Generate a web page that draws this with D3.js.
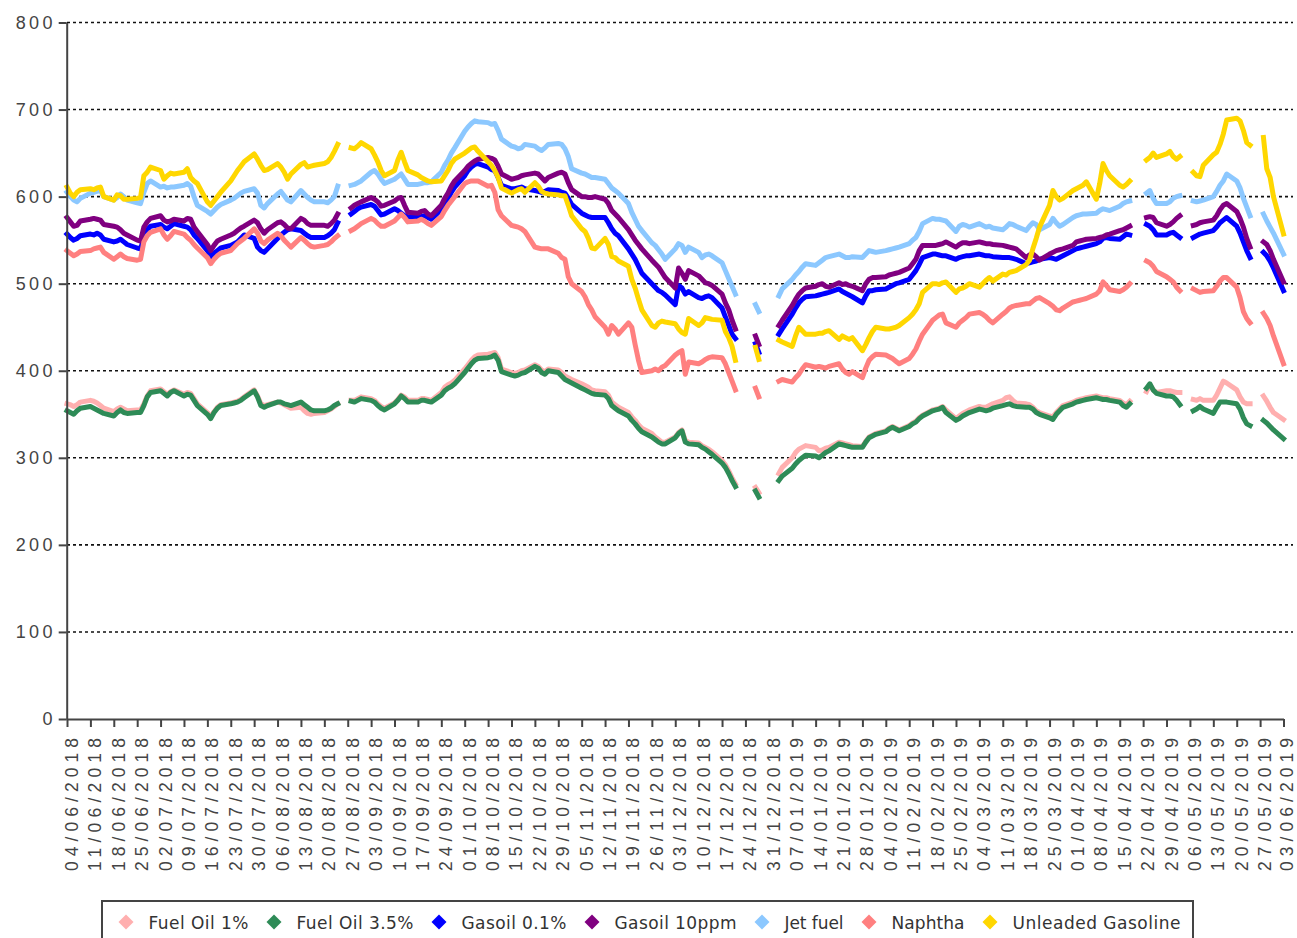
<!DOCTYPE html>
<html>
<head>
<meta charset="utf-8">
<script src="https://cdn.jsdelivr.net/npm/d3@7/dist/d3.min.js"></script>
<style>
body { margin: 0; background: #fff; }
svg { display: block; font-family: "DejaVu Sans", sans-serif; }
</style>
</head>
<body>
<script>
// weekly tick labels (Mondays); each week holds 5 business days, last week only its Monday
var weekLabels = ["04/06/2018","11/06/2018","18/06/2018","25/06/2018","02/07/2018","09/07/2018",
  "16/07/2018","23/07/2018","30/07/2018","06/08/2018","13/08/2018","20/08/2018","27/08/2018",
  "03/09/2018","10/09/2018","17/09/2018","24/09/2018","01/10/2018","08/10/2018","15/10/2018",
  "22/10/2018","29/10/2018","05/11/2018","12/11/2018","19/11/2018","26/11/2018","03/12/2018",
  "10/12/2018","17/12/2018","24/12/2018","31/12/2018","07/01/2019","14/01/2019","21/01/2019",
  "28/01/2019","04/02/2019","11/02/2019","18/02/2019","25/02/2019","04/03/2019","11/03/2019",
  "18/03/2019","25/03/2019","01/04/2019","08/04/2019","15/04/2019","22/04/2019","29/04/2019",
  "06/05/2019","13/05/2019","20/05/2019","27/05/2019","03/06/2019"]

var yTicks = [0, 100, 200, 300, 400, 500, 600, 700, 800]

var seriesNames = ["Fuel Oil 1%", "Fuel Oil 3.5%", "Gasoil 0.1%", "Gasoil 10ppm", "Jet fuel", "Naphtha", "Unleaded Gasoline"]

var fuelOil1 = [
362,361,359,361,364, 366,365,363,360,357, 353,356,358,356,354, 355,355,362,371,377,
379,376,373,376,378, 373,375,374,368,362, 352,347,353,358,361, 363,364,365,367,370,
378,371,362,360,361, 364,363,361,359,357, 358,354,351,350,351, 352,354,356,359,362,
null,366,366,368,370, 368,366,362,359,357, 363,367,372,370,366, 366,368,368,367,366,
375,381,384,386,389, 402,407,412,416,418, 419,420,421,415,402, 398,397,398,400,401,
407,405,401,399,402, 401,398,394,392,390, 385,383,381,378,377, 376,372,364,361,358,
352,347,343,338,334, 328,324,321,318,318, 324,329,332,320,318, 317,314,312,310,307,
297,292,285,277,270, null,null,null,266,260, null,null,null,282,289, 300,306,310,312,314,
312,308,309,311,312, 318,317,316,315,314, 313,319,324,326,328, 331,334,336,334,332,
337,340,342,346,349, 355,356,357,359,355, 345,348,351,353,355, 359,358,358,360,362,
366,369,370,366,363, 362,361,358,354,352, 348,347,352,356,360, 364,366,367,368,369,
371,370,369,369,368, 366,363,361,365,null, null,376,384,378,375, 377,377,376,375,375,
null,367,366,368,366, 366,372,380,388,386, 378,370,364,362,362, null,371,365,358,352,
344]

var fuelOil35 = [
354,352,350,354,357, 359,357,355,353,351, 348,352,355,352,351, 352,352,360,370,375,
377,374,371,375,377, 371,373,372,366,360, 350,345,352,357,360, 362,363,364,366,369,
377,370,360,358,360, 364,364,362,361,360, 364,361,358,355,354, 354,355,357,360,362,
null,365,364,366,368, 366,364,360,357,355, 362,366,371,368,364, 364,366,366,365,364,
372,377,380,382,385, 398,403,408,412,414, 415,416,418,412,399, 395,394,395,397,398,
405,403,398,396,400, 398,394,390,388,386, 380,378,376,374,373, 372,368,360,357,354,
348,343,339,334,330, 324,321,318,316,316, 323,328,331,318,316, 315,312,310,307,304,
294,289,282,274,267, null,null,null,262,255, null,null,null,274,279, 288,293,297,300,303,
302,300,303,306,308, 316,315,314,313,312, 312,318,323,325,327, 330,333,335,333,331,
336,339,341,345,348, 354,355,356,358,352, 343,345,348,350,352, 356,355,354,355,357,
360,361,362,360,359, 358,358,356,352,350, 346,344,350,354,358, 362,364,365,366,367,
369,368,367,367,366, 364,360,358,362,null, null,380,385,378,374, 371,371,370,366,361,
null,354,356,359,356, 351,358,364,364,364, 362,356,346,339,337, null,343,340,336,332,
322]

var gasoil01 = [
557,553,550,552,555, 557,556,558,556,551, 548,549,551,548,545, 541,540,552,562,566,
568,565,563,566,569, 566,565,562,556,552, 538,531,535,538,541, 544,546,548,552,556,
552,542,538,536,540, 552,556,559,562,563, 561,558,555,553,553, 553,555,558,562,570,
null,580,583,586,588, 591,589,584,579,580, 586,584,581,578,577, 576,577,578,576,574,
585,592,598,605,611, 624,630,634,637,638, 634,631,630,622,613, 609,609,610,611,609,
607,606,605,606,608, 607,605,604,598,591, 581,579,577,576,576, 576,570,563,558,555,
540,534,528,520,512, 500,496,492,490,487, 476,498,495,488,491, 484,483,485,486,484,
472,462,452,442,437, null,null,null,431,421, null,null,null,442,448, 465,472,478,482,485,
486,487,488,489,490, 494,491,489,487,485, 478,486,492,492,493, 494,496,498,500,501,
505,510,515,522,530, 534,534,533,532,532, 528,530,531,532,532, 534,533,532,532,531,
530,530,530,529,528, 523,524,525,526,528, 530,529,528,530,532, 538,540,541,542,543,
546,548,552,553,552, 551,554,557,556,null, null,568,566,562,556, 556,558,559,556,553,
null,553,555,557,558, 561,565,570,573,576, 566,558,548,538,530, null,536,532,526,518,
492]

var gasoil10 = [
576,571,566,567,572, 574,575,574,573,568, 566,565,562,558,556, 550,549,565,571,575,
578,573,571,572,574, 572,575,574,565,560, 545,538,544,549,551, 556,558,561,564,566,
573,570,563,558,562, 570,571,568,564,563, 575,573,569,567,567, 567,566,569,573,580,
null,587,590,592,594, 599,597,594,589,590, 595,598,599,590,582, 581,583,584,580,578,
590,598,604,612,618, 630,635,638,641,643, 645,644,642,635,626, 620,621,622,624,625,
627,626,622,618,622, 627,628,626,616,608, 600,600,599,599,600, 597,592,584,580,576,
562,556,550,545,540, 527,523,519,513,507, 495,518,512,505,515, 509,505,501,500,498,
488,478,470,458,448, null,null,null,440,430, null,null,null,452,458, 475,482,488,492,495,
497,499,500,497,496, 501,499,500,498,497, 492,500,505,507,507, 508,510,511,512,513,
518,523,528,538,544, 544,544,545,546,548, 542,545,547,547,546, 548,547,546,546,545,
544,543,542,541,540, 530,533,534,531,527, 534,536,538,539,540, 544,548,549,550,551,
552,553,554,556,557, 561,562,564,566,null, null,576,577,576,570, 566,568,571,575,578,
null,567,568,570,571, 573,578,585,590,592, 583,575,565,552,542, null,548,545,538,528,
502]

var jetFuel = [
605,600,596,594,598, 604,605,606,607,600, 596,599,603,600,596, 593,592,605,615,618,
611,612,610,611,611, 613,615,612,600,590, 583,580,584,588,591, 596,598,601,604,606,
609,604,590,587,592, 603,606,601,596,594, 607,603,599,596,594, 594,593,596,600,612,
null,613,614,616,618, 628,630,626,620,615, 620,623,626,620,614, 614,615,616,616,617,
628,636,642,650,656, 675,680,684,687,686, 685,683,684,676,666, 658,657,655,656,660,
658,655,653,656,660, 661,660,655,646,632, 627,626,624,622,622, 620,615,610,607,604,
592,582,574,566,561, 547,544,539,534,528, 540,546,544,536,542, 536,530,533,534,532,
524,515,506,497,488, null,null,null,476,468, null,null,null,486,494, 505,510,514,519,523,
521,524,527,530,531, 534,532,530,530,531, 530,534,538,537,536, 538,539,540,541,542,
546,550,553,560,569, 575,574,574,573,572, 560,566,568,567,565, 569,567,565,566,564,
562,565,569,568,566, 561,566,570,568,562, 568,575,570,566,568, 576,578,579,580,580,
581,584,586,585,584, 589,592,594,595,null, null,604,607,598,592, 592,594,598,600,601,
null,595,594,595,596, 600,606,613,618,626, 618,610,598,588,578, null,580,572,565,558,
534]

var naphtha = [
538,535,532,534,537, 538,540,541,542,536, 528,531,534,531,529, 527,528,548,555,559,
563,556,551,555,560, 557,553,550,545,541, 530,523,528,532,535, 538,542,546,549,552,
563,558,549,546,550, 558,555,550,546,542, 553,550,546,543,542, 544,545,548,552,555,
null,561,563,566,569, 575,573,569,566,566, 572,576,580,576,571, 572,574,572,569,567,
577,584,590,595,600, 615,617,618,618,618, 612,613,605,585,578, 567,566,565,563,560,
542,541,540,540,540, 535,530,528,508,500, 491,485,476,470,462, 450,442,452,448,442,
455,450,430,412,398, 400,402,400,404,406, 418,421,423,396,410, 408,410,413,415,416,
415,408,398,388,378, null,null,null,380,370, null,null,null,388,390, 387,392,396,402,407,
404,405,404,403,405, 408,402,398,396,399, 392,403,412,416,419, 418,416,414,411,408,
414,419,425,434,442, 458,461,464,465,455, 450,455,458,461,465, 467,465,462,458,455,
465,468,472,474,475, 477,477,480,483,484, 477,474,470,469,472, 479,480,481,482,483,
488,492,502,498,493, 491,493,496,500,null, null,526,524,520,514, 508,505,502,496,492,
null,494,492,490,491, 492,497,503,507,507, 496,484,468,460,455, null,466,460,452,440,
408]

var gasoline = [
611,604,600,605,608, 609,608,610,611,600, 596,602,601,597,597, 598,599,624,628,634,
630,620,624,627,626, 628,632,622,618,615, 594,590,595,600,605, 618,624,630,635,640,
649,643,636,630,631, 638,634,628,620,626, 637,639,634,635,636, 638,640,645,652,660,
null,656,655,658,662, 655,648,640,630,624, 630,642,651,640,630, 625,622,620,618,617,
618,624,630,638,643, 650,653,656,657,652, 640,636,630,622,610, 604,606,608,609,605,
616,612,606,604,603, 602,601,601,590,578, 563,560,552,541,540, 552,545,531,530,526,
520,505,495,482,470, 452,450,455,457,456, 454,448,444,442,460, 452,455,461,460,459,
458,445,438,428,412, null,null,null,427,413, null,null,null,435,433, 428,440,450,446,442,
442,443,443,445,446, 436,440,438,436,438, 423,430,438,445,450, 448,448,449,450,452,
461,465,470,477,490, 500,500,499,501,502, 490,494,495,497,500, 496,500,504,507,503,
511,510,513,514,515, 522,527,540,552,565, 590,607,600,596,598, 607,609,611,613,617,
597,615,638,630,624, 613,611,614,618,null, null,642,645,650,645, 649,652,646,643,646,
null,628,624,623,636, 648,651,660,672,688, 690,687,676,662,659, null,668,632,622,600,
557]

var seriesColors = ["#FFAFAF", "#2E8B57", "#0000FF", "#800080", "#8CC8FF", "#FF8080", "#FFD700"]
// legend label widths, px
var legendWidths = [100, 117, 105, 122, 59, 73, 168]

var width = 1297
var height = 938

var parseDay = d3.timeParse("%d/%m/%Y")
var weekDates = weekLabels.map(parseDay)
var days = []
weekDates.forEach(function(d, i) {
  var n = i < weekDates.length - 1 ? 5 : 1
  for (var k = 0; k < n; k++) {
    days.push(d3.timeDay.offset(d, k))
  }
})

var seriesValues = [fuelOil1, fuelOil35, gasoil01, gasoil10, jetFuel, naphtha, gasoline]
var series = seriesNames.map(function(name, i) {
  return {
    name: name,
    color: seriesColors[i],
    points: days.map(function(d, j) { return {date: d, v: seriesValues[i][j]} })
  }
})

var svg = d3.select("body")
            .append("svg")
            .attr("width", width)
            .attr("height", height)

var x = d3.scaleTime()
          .domain([weekDates[0], weekDates[weekDates.length - 1]])
          .range([67, 1283.5])

var y = d3.scaleLinear()
          .domain([0, 800])
          .range([719, 22.5])

// dotted horizontal grid
svg.append("g")
   .selectAll("line")
   .data(yTicks.filter(function(d) { return d > 0 }))
   .enter()
   .append("line")
   .attr("x1", 67)
   .attr("x2", 1293)
   .attr("y1", function(d) { return y(d) })
   .attr("y2", function(d) { return y(d) })
   .attr("stroke", "#111")
   .attr("stroke-width", 1.6)
   .attr("stroke-dasharray", "3,3")

var line = d3.line()
             .defined(function(d) { return d.v != null })
             .x(function(d) { return x(d.date) })
             .y(function(d) { return y(d.v) })

svg.append("g")
   .selectAll("path")
   .data(series)
   .enter()
   .append("path")
   .attr("d", function(d) { return line(d.points) })
   .attr("fill", "none")
   .attr("stroke", function(d) { return d.color })
   .attr("stroke-width", 5)
   .attr("stroke-linecap", "square")
   .attr("stroke-linejoin", "round")

// y axis
var yAxis = svg.append("g")
               .attr("transform", "translate(66.7,0)")
               .call(d3.axisLeft(y).tickValues(yTicks).tickSize(8).tickSizeOuter(0).tickPadding(3))
yAxis.selectAll("text")
     .style("font-size", "18px")
     .style("letter-spacing", "3.3px")
     .attr("fill", "#444")

// x axis
var lastTick = weekLabels.length - 1
var xAxis = svg.append("g")
               .attr("transform", "translate(0,719)")
               .call(d3.axisBottom(x)
                       .tickValues(weekDates)
                       .tickSize(8)
                       .tickSizeOuter(0)
                       .tickFormat(function(d, i) { return weekLabels[i] }))
xAxis.selectAll("text")
     .attr("transform", "rotate(-90)")
     .attr("x", -19)
     .attr("y", function(d, i) { return i == lastTick ? 8.5 : 10.5 })
     .attr("dy", 0)
     .attr("textLength", 133)
     .attr("lengthAdjust", "spacing")
     .style("text-anchor", "end")
     .style("font-size", "17.5px")
     .attr("fill", "#444")

svg.selectAll(".domain, .tick line")
   .attr("stroke", "#444")
   .attr("stroke-width", 2)

// legend
var legend = svg.append("g")
legend.append("rect")
      .attr("x", 102)
      .attr("y", 901)
      .attr("width", 1091)
      .attr("height", 60)
      .attr("fill", "#fff")
      .attr("stroke", "#444")
      .attr("stroke-width", 2)

var lx = 126
series.forEach(function(s, i) {
  var g = legend.append("g").attr("transform", "translate(" + lx + ",922)")
  g.append("path")
   .attr("d", "M0,-7.5L7.5,0L0,7.5L-7.5,0Z")
   .attr("fill", s.color)
  g.append("text")
   .attr("x", 22.5)
   .attr("y", 6.5)
   .attr("textLength", legendWidths[i])
   .attr("lengthAdjust", "spacing")
   .style("font-size", "17px")
   .attr("fill", "#333")
   .text(s.name)
  lx += 22.5 + legendWidths[i] + 25.5
})
</script>
</body>
</html>
